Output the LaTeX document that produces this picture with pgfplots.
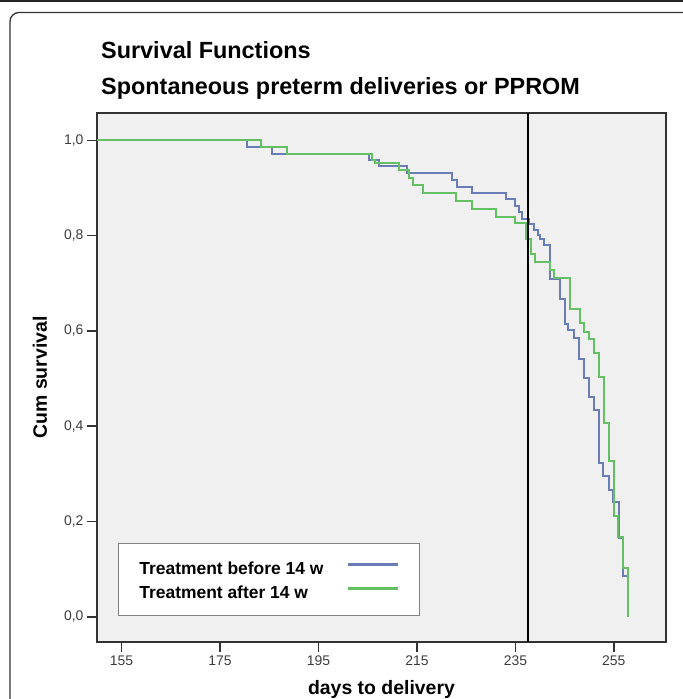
\documentclass[border=0pt]{standalone}
\usepackage{fontspec}
\setmainfont{Liberation Sans}
\usepackage{pgfplots}
\pgfplotsset{compat=1.18}

\definecolor{kmblue}{HTML}{6B7DB8}
\definecolor{kmgreen}{HTML}{63C063}
\definecolor{panel}{HTML}{F0F0F0}
\definecolor{tickgray}{HTML}{3C3C3C}

% Kaplan-Meier estimates: day, cumulative survival (step starts at the day)
\pgfplotstableread{
day  surv
150.0 1.000
180.4 0.986
185.5 0.972
205.2 0.959
207.2 0.946
213.0 0.931
222.1 0.917
223.1 0.903
226.2 0.889
233.1 0.877
235.0 0.863
235.8 0.849
236.4 0.834
237.7 0.824
238.8 0.812
239.5 0.802
240.1 0.792
240.8 0.780
242.0 0.708
244.0 0.668
245.0 0.614
245.7 0.601
246.9 0.586
247.9 0.542
248.9 0.502
249.9 0.461
250.9 0.434
251.9 0.322
252.9 0.295
254.0 0.266
254.9 0.240
256.0 0.165
256.9 0.086
258.0 0.086
}\before

\pgfplotstableread{
day  surv
150.0 1.000
183.3 0.986
188.5 0.971
205.8 0.958
206.5 0.952
211.3 0.937
213.3 0.920
214.3 0.906
216.2 0.889
223.0 0.873
226.2 0.855
231.1 0.840
235.0 0.826
237.2 0.793
238.1 0.762
238.9 0.745
242.0 0.727
242.8 0.712
246.0 0.647
248.1 0.616
248.9 0.598
249.9 0.584
250.9 0.553
251.9 0.504
253.0 0.406
254.0 0.326
255.0 0.212
255.9 0.168
256.9 0.102
257.9 0.000
}\after

\begin{document}
\begin{tikzpicture}
\useasboundingbox (0bp,0bp) rectangle (683bp,699bp);
% page rules
\draw[line width=1.6bp, black!85] (0bp,698bp) -- (683bp,698bp);
\draw[line width=1.3bp, black!80, rounded corners=9bp] (10bp,-5bp) -- (10bp,686.5bp) -- (700bp,686.5bp);
% title
\node[anchor=base west, inner sep=0pt, font=\fontsize{23.5}{28}\selectfont\bfseries] at (101bp,640.5bp) {Survival Functions};
\node[anchor=base west, inner sep=0pt, font=\fontsize{23.5}{28}\selectfont\bfseries] at (101bp,604.5bp) {Spontaneous preterm deliveries or PPROM};

\begin{axis}[
  at={(97bp,57bp)}, anchor=south west,
  scale only axis, width=569bp, height=529bp,
  xmin=150, xmax=265.6, ymin=-0.053, ymax=1.0575,
  axis background/.style={fill=panel},
  axis line style={line width=1.5bp, black!80},
  xtick={155,175,195,215,235,255},
  ytick={0,0.2,0.4,0.6,0.8,1},
  xtick pos=left, ytick pos=left,
  tick align=outside,
  major tick length=10bp,
  tick style={line width=1.5bp, black!80},
  /pgf/number format/assume math mode=true,
  ticklabel style={font=\fontsize{14}{16}\selectfont, text=tickgray},
  yticklabel style={/pgf/number format/.cd, use comma, fixed, fixed zerofill, precision=1},
  xticklabel style={/pgf/number format/.cd, set thousands separator={}},
  xlabel={days to delivery},
  ylabel={Cum survival},
  label style={font=\fontsize{19.5}{22}\selectfont\bfseries},
  xlabel style={at={(axis description cs:0.5,-0.0983)}, anchor=base},
  ylabel style={at={(axis description cs:-0.0879,0.5)}, anchor=base},
  legend plot pos=right,
  legend cell align=left,
  legend image code/.code={\draw[#1, line width=2.4bp] (0bp,0.3em) -- (50bp,0.3em);},
  legend style={
    at={(axis description cs:0.0369,0.0491)}, anchor=south west,
    draw=black!50, line width=0.8bp, fill=white,
    font=\fontsize{17.5}{20}\selectfont\bfseries,
    inner xsep=21bp, inner ysep=12.5bp, row sep=1bp,
    nodes={inner sep=0pt, text height=18bp, text depth=5bp},
    /tikz/every odd column/.append style={column sep=23bp},
  },
]
\addplot[kmblue, line width=2bp, const plot] table[x=day, y=surv] {\before};
\addlegendentry{Treatment before 14 w}
\addplot[kmgreen, line width=2bp, const plot] table[x=day, y=surv] {\after};
\addlegendentry{Treatment after 14 w}
% 34 weeks of gestation
\draw[black, line width=2.2bp] ({axis cs:237.6,0}|-{rel axis cs:0,0}) -- ({axis cs:237.6,0}|-{rel axis cs:0,1});
\end{axis}
\end{tikzpicture}
\end{document}
